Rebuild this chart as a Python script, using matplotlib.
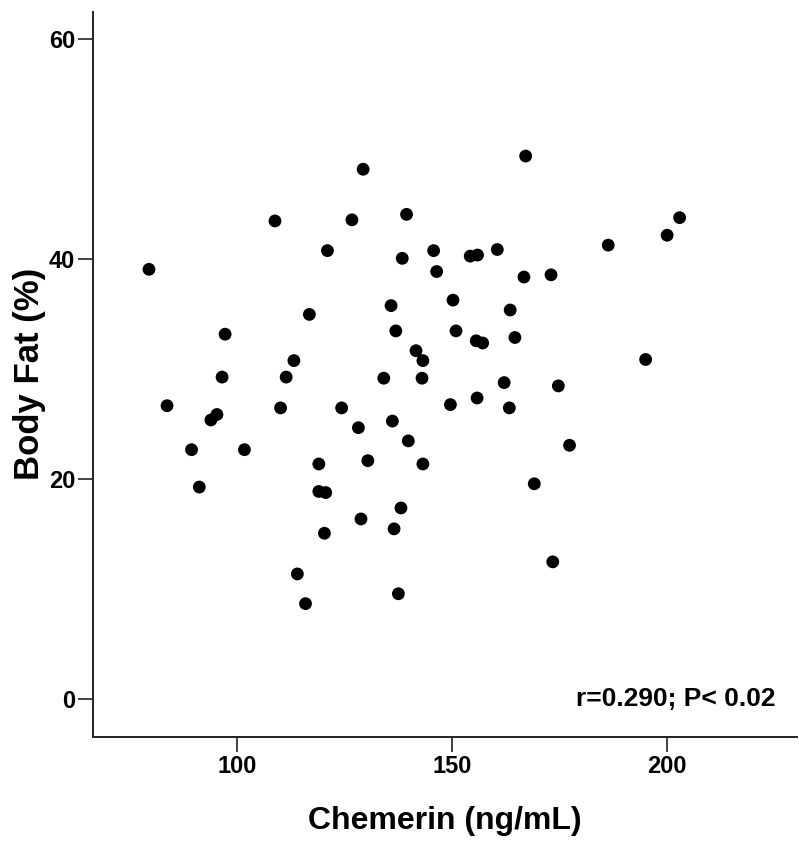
import matplotlib
matplotlib.use("Agg")
import matplotlib.pyplot as plt

chemerin = [79.6, 83.8, 89.5, 91.3, 94.0, 95.4, 96.6, 97.3, 101.8, 108.9,
            110.2, 111.5, 113.3, 114.1, 116.0, 116.9, 119.1, 119.1, 120.7, 120.4,
            121.1, 124.4, 126.8, 128.3, 128.9, 129.4, 130.5, 134.2, 135.9, 136.2,
            136.6, 137.0, 137.6, 138.2, 138.5, 139.5, 139.9, 141.7, 143.3, 143.1,
            143.3, 145.8, 146.5, 149.7, 150.3, 151.0, 154.3, 156.0, 155.7, 157.2,
            155.9, 160.6, 162.2, 163.4, 163.6, 164.7, 166.8, 167.2, 169.2, 173.1,
            173.5, 174.8, 177.4, 186.4, 195.1, 200.1, 203.0]
body_fat = [39.1, 26.7, 22.7, 19.3, 25.4, 25.9, 29.3, 33.2, 22.7, 43.5,
            26.5, 29.3, 30.8, 11.4, 8.7, 35.0, 21.4, 18.9, 18.8, 15.1,
            40.8, 26.5, 43.6, 24.7, 16.4, 48.2, 21.7, 29.2, 35.8, 25.3,
            15.5, 33.5, 9.6, 17.4, 40.1, 44.1, 23.5, 31.7, 30.8, 29.2,
            21.4, 40.8, 38.9, 26.8, 36.3, 33.5, 40.3, 40.4, 32.6, 32.4,
            27.4, 40.9, 28.8, 26.5, 35.4, 32.9, 38.4, 49.4, 19.6, 38.6,
            12.5, 28.5, 23.1, 41.3, 30.9, 42.2, 43.8]
x_ticks = [100, 150, 200]
y_ticks = [0, 20, 40, 60]
annotation = "r=0.290; P< 0.02"

plt.rcParams['font.family'] = ['Liberation Sans', 'DejaVu Sans']
plt.rcParams['font.weight'] = 'bold'

fig = plt.figure(figsize=(7.99, 8.41), dpi=100)
ax = fig.add_axes([93.3/799, 1 - 736.7/841, (797 - 93.3)/799, (736.7 - 12)/841])

ax.scatter(chemerin, body_fat, s=85, color='black', edgecolors='none', zorder=3)

ax.set_xlim(66.65, 230.3)
ax.set_ylim(-3.4, 62.5)
ax.set_xticks(x_ticks)
ax.set_yticks(y_ticks)
ax.tick_params(direction='out', length=11, width=1.2, labelsize=17, pad=2, color='#222222')
for lab in ax.get_xticklabels() + ax.get_yticklabels():
    lab.set_fontweight('bold')

for s in ['top', 'right']:
    ax.spines[s].set_visible(False)
for s in ['left', 'bottom']:
    ax.spines[s].set_linewidth(1.4)
    ax.spines[s].set_color('#222222')

ax.set_xlabel("Chemerin (ng/mL)", fontsize=23, fontweight='bold')
ax.set_ylabel("Body Fat (%)", fontsize=25, fontweight='bold')
ax.xaxis.set_label_coords(0.5, -0.117)
ax.yaxis.set_label_coords(-0.09, 0.5)
ax.xaxis.label.set_va('center')
ax.yaxis.label.set_va('center')

ax.text(225.2, 0, annotation, fontsize=19, fontweight='bold', ha='right', va='center')

fig.savefig("out.png", dpi=100)
